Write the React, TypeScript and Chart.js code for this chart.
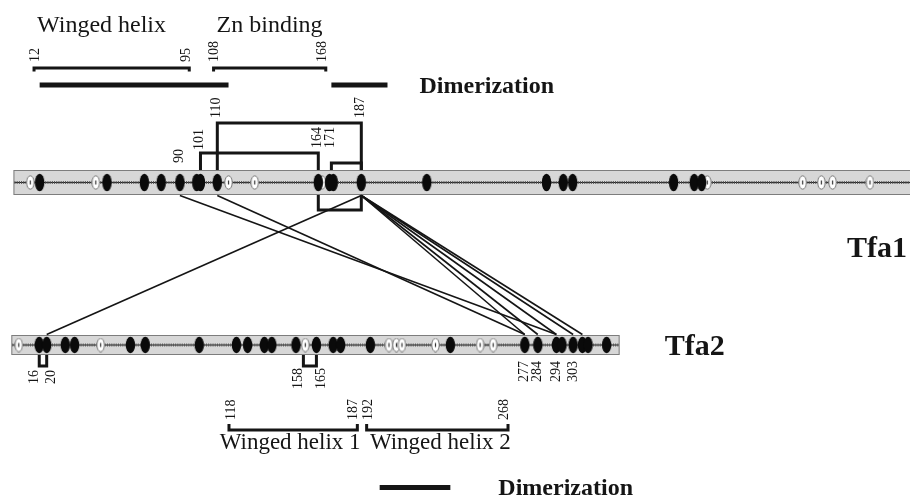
import { useEffect, useRef } from "react";
import { Chart, registerables } from "chart.js";

Chart.register(...registerables);

// ---------------- data (residue numbers) ----------------
const TFA1_LENGTH = 482;
const TFA2_LENGTH = 328;

const tfa1Lysines = [15, 51, 71, 80, 90, 99, 101, 110, 164, 170, 172, 187, 222, 286, 295, 300, 354, 365, 369];
const tfa1OtherSites = [10, 45, 116, 130, 166, 372, 423, 433, 439, 459];
const tfa2Lysines = [16, 20, 30, 35, 65, 73, 102, 122, 128, 137, 141, 154, 165, 174, 178, 194, 237, 277, 284, 294, 297, 303, 308, 311, 321];
const tfa2OtherSites = [5, 49, 159, 204, 208, 211, 229, 253, 260];

const tfa1DomainNames = ["Winged helix", "Zn binding"];
const tfa1DomainStarts = [12, 108];
const tfa1DomainEnds = [95, 168];
const tfa2DomainNames = ["Winged helix 1", "Winged helix 2"];
const tfa2DomainStarts = [118, 192];
const tfa2DomainEnds = [187, 268];

const tfa1DimerStarts = [15, 171];
const tfa1DimerEnds = [116, 201];
const tfa2DimerStarts = [199];
const tfa2DimerEnds = [237];
const dimerLabel = "Dimerization";

const tfa1IntraAboveFrom = [110, 101, 171];
const tfa1IntraAboveTo = [187, 164, 187];
const tfa1IntraBelowFrom = [164];
const tfa1IntraBelowTo = [187];
const tfa2IntraBelowFrom = [16, 158];
const tfa2IntraBelowTo = [20, 165];

const interTfa1 = [90, 110, 187, 187, 187, 187, 187, 187];
const interTfa2 = [294, 277, 20, 277, 284, 294, 303, 308];

const tfa1SiteLabels = [90, 101, 110, 164, 171, 187];
const tfa2SiteLabels = [16, 20, 158, 165, 277, 284, 294, 303];
const proteinNames = ["Tfa1", "Tfa2"];

// ---------------- layout (pixels) ----------------
const W = 910;
const H = 496;
const TFA1_Y = 182.5;
const TFA1_H = 25;
const TFA2_Y = 345;
const TFA2_H = 20;
const ABOVE_LEVELS = [123, 153, 163];
const BELOW_TFA1_LEVEL = 210;
const BELOW_TFA2_LEVEL = 366;
const TFA1_LABEL_BOTTOMS = [163, 150, 118, 148, 148, 118];
const TFA2_LABEL_TOPS = [370, 370, 368, 368, 361, 361, 361, 361];
const SERIF = '"Liberation Serif", "Times New Roman", serif';
const INK = "#151515";

function ellipseImage(w: number, h: number, fill: string, stroke: string | null, mark: boolean) {
  const c = document.createElement("canvas");
  c.width = w;
  c.height = h;
  const g = c.getContext("2d")!;
  g.beginPath();
  g.ellipse(w / 2, h / 2, w / 2 - 0.8, h / 2 - 0.8, 0, 0, Math.PI * 2);
  g.fillStyle = fill;
  g.fill();
  if (stroke) {
    g.lineWidth = 1;
    g.strokeStyle = stroke;
    g.stroke();
  }
  if (mark) {
    g.fillStyle = "#333";
    g.fillRect(w / 2 - 0.6, h / 2 - 2, 1.2, 4);
  }
  return c;
}

function vText(ctx: CanvasRenderingContext2D, text: string, x: number, y: number, anchor: "top" | "bottom") {
  ctx.save();
  ctx.translate(x, y);
  ctx.rotate(-Math.PI / 2);
  ctx.textAlign = anchor === "bottom" ? "left" : "right";
  ctx.textBaseline = "middle";
  ctx.fillText(text, 0, 0);
  ctx.restore();
}

function drawTrack(ctx: CanvasRenderingContext2D, xa: number, xb: number, yc: number, h: number) {
  ctx.save();
  ctx.fillStyle = "#d7d7d7";
  ctx.fillRect(xa, yc - h / 2, xb - xa, h);
  ctx.strokeStyle = "#7d7d7d";
  ctx.lineWidth = 1;
  ctx.strokeRect(xa + 0.5, yc - h / 2 + 0.5, xb - xa - 1, h - 1);
  ctx.beginPath();
  ctx.moveTo(xa + 1, yc);
  ctx.lineTo(xb - 1, yc);
  ctx.strokeStyle = "#222";
  ctx.lineWidth = 1;
  ctx.stroke();
  ctx.setLineDash([1, 1.2]);
  ctx.lineWidth = 3;
  ctx.strokeStyle = "#555";
  ctx.stroke();
  ctx.restore();
}

function bracket(ctx: CanvasRenderingContext2D, xa: number, xb: number, yLeg: number, yLine: number) {
  ctx.beginPath();
  ctx.moveTo(xa, yLeg);
  ctx.lineTo(xa, yLine);
  ctx.lineTo(xb, yLine);
  ctx.lineTo(xb, yLeg);
  ctx.stroke();
}

const diagramPlugin = {
  id: "tfaDiagram",
  beforeDatasetsDraw(chart: any) {
    const { ctx, scales } = chart;
    const x1 = scales.x;
    const x2 = scales.x2;
    const y = scales.y;
    drawTrack(ctx, x1.getPixelForValue(1), x1.getPixelForValue(TFA1_LENGTH), y.getPixelForValue(TFA1_Y), TFA1_H);
    drawTrack(ctx, x2.getPixelForValue(1), x2.getPixelForValue(TFA2_LENGTH), y.getPixelForValue(TFA2_Y), TFA2_H);
  },
  afterDatasetsDraw(chart: any) {
    const { ctx, scales } = chart;
    const x1 = scales.x;
    const x2 = scales.x2;
    const y = scales.y;
    const t1Top = y.getPixelForValue(TFA1_Y) - TFA1_H / 2;
    const t1Bot = y.getPixelForValue(TFA1_Y) + TFA1_H / 2;
    const t2Top = y.getPixelForValue(TFA2_Y) - TFA2_H / 2;
    const t2Bot = y.getPixelForValue(TFA2_Y) + TFA2_H / 2;

    ctx.save();
    ctx.fillStyle = INK;
    ctx.strokeStyle = INK;

    // inter-protein cross-links
    ctx.lineWidth = 1.6;
    for (let i = 0; i < interTfa1.length; i++) {
      ctx.beginPath();
      ctx.moveTo(x1.getPixelForValue(interTfa1[i]), t1Bot + 0.5);
      ctx.lineTo(x2.getPixelForValue(interTfa2[i]), t2Top - 0.5);
      ctx.stroke();
    }

    // intra-protein cross-link brackets
    ctx.lineWidth = 3;
    ctx.lineJoin = "miter";
    ctx.lineCap = "butt";
    for (let i = 0; i < tfa1IntraAboveFrom.length; i++) {
      bracket(ctx, x1.getPixelForValue(tfa1IntraAboveFrom[i]), x1.getPixelForValue(tfa1IntraAboveTo[i]), t1Top, ABOVE_LEVELS[i]);
    }
    for (let i = 0; i < tfa1IntraBelowFrom.length; i++) {
      bracket(ctx, x1.getPixelForValue(tfa1IntraBelowFrom[i]), x1.getPixelForValue(tfa1IntraBelowTo[i]), t1Bot, BELOW_TFA1_LEVEL);
    }
    for (let i = 0; i < tfa2IntraBelowFrom.length; i++) {
      bracket(ctx, x2.getPixelForValue(tfa2IntraBelowFrom[i]), x2.getPixelForValue(tfa2IntraBelowTo[i]), t2Bot, BELOW_TFA2_LEVEL);
    }

    // domain brackets
    for (let i = 0; i < tfa1DomainNames.length; i++) {
      bracket(ctx, x1.getPixelForValue(tfa1DomainStarts[i]), x1.getPixelForValue(tfa1DomainEnds[i]), 71.5, 68);
    }
    for (let i = 0; i < tfa2DomainNames.length; i++) {
      bracket(ctx, x2.getPixelForValue(tfa2DomainStarts[i]), x2.getPixelForValue(tfa2DomainEnds[i]), 424, 430);
    }

    // dimerization bars
    for (let i = 0; i < tfa1DimerStarts.length; i++) {
      const a = x1.getPixelForValue(tfa1DimerStarts[i]);
      const b = x1.getPixelForValue(tfa1DimerEnds[i]);
      ctx.fillRect(a, 82.5, b - a, 5);
    }
    for (let i = 0; i < tfa2DimerStarts.length; i++) {
      const a = x2.getPixelForValue(tfa2DimerStarts[i]);
      const b = x2.getPixelForValue(tfa2DimerEnds[i]);
      ctx.fillRect(a, 485, b - a, 5);
    }

    // rotated residue labels
    ctx.font = `14px ${SERIF}`;
    for (let i = 0; i < tfa1SiteLabels.length; i++) {
      vText(ctx, String(tfa1SiteLabels[i]), x1.getPixelForValue(tfa1SiteLabels[i]) - 1, TFA1_LABEL_BOTTOMS[i], "bottom");
    }
    for (let i = 0; i < tfa2SiteLabels.length; i++) {
      const r = tfa2SiteLabels[i];
      let nudge = 0;
      if (tfa2IntraBelowFrom.includes(r)) nudge = -5;
      if (tfa2IntraBelowTo.includes(r)) nudge = 5;
      vText(ctx, String(r), x2.getPixelForValue(r) + nudge, TFA2_LABEL_TOPS[i], "top");
    }
    for (let i = 0; i < tfa1DomainNames.length; i++) {
      vText(ctx, String(tfa1DomainStarts[i]), x1.getPixelForValue(tfa1DomainStarts[i]) + 1, 62, "bottom");
      vText(ctx, String(tfa1DomainEnds[i]), x1.getPixelForValue(tfa1DomainEnds[i]) - 3, 62, "bottom");
    }
    for (let i = 0; i < tfa2DomainNames.length; i++) {
      vText(ctx, String(tfa2DomainStarts[i]), x2.getPixelForValue(tfa2DomainStarts[i]) + 2, 420, "bottom");
      vText(ctx, String(tfa2DomainEnds[i]), x2.getPixelForValue(tfa2DomainEnds[i]) - 4, 420, "bottom");
    }

    // domain names
    ctx.font = `24px ${SERIF}`;
    ctx.textBaseline = "alphabetic";
    ctx.textAlign = "left";
    for (let i = 0; i < tfa1DomainNames.length; i++) {
      ctx.fillText(tfa1DomainNames[i], x1.getPixelForValue(tfa1DomainStarts[i]) + 3, 32);
    }
    ctx.font = `23px ${SERIF}`;
    ctx.textAlign = "center";
    for (let i = 0; i < tfa2DomainNames.length; i++) {
      const c = (x2.getPixelForValue(tfa2DomainStarts[i]) + x2.getPixelForValue(tfa2DomainEnds[i])) / 2;
      ctx.fillText(tfa2DomainNames[i], c + (i === 0 ? -3 : 3), 449);
    }

    // dimerization labels
    ctx.font = `bold 24px ${SERIF}`;
    ctx.textAlign = "left";
    ctx.fillText(dimerLabel, x1.getPixelForValue(tfa1DimerEnds[tfa1DimerEnds.length - 1]) + 32, 93);
    ctx.fillText(dimerLabel, x2.getPixelForValue(tfa2DimerEnds[tfa2DimerEnds.length - 1]) + 48, 495);

    // protein names
    ctx.font = `bold 30px ${SERIF}`;
    ctx.textAlign = "right";
    ctx.fillText(proteinNames[0], 907, 257);
    ctx.textAlign = "left";
    ctx.fillText(proteinNames[1], x2.getPixelForValue(TFA2_LENGTH) + 45, 355);

    ctx.restore();
  },
};

export default function App() {
  const canvasRef = useRef<HTMLCanvasElement | null>(null);

  useEffect(() => {
    const canvas = canvasRef.current;
    if (!canvas) return;
    const black1 = ellipseImage(11, 19, "#0a0a0a", null, false);
    const white1 = ellipseImage(9, 15, "#ffffff", "#777777", true);
    const black2 = ellipseImage(11, 18, "#0a0a0a", null, false);
    const white2 = ellipseImage(9, 15, "#ffffff", "#777777", true);

    const chart = new Chart(canvas, {
      type: "scatter",
      data: {
        datasets: [
          { label: "Tfa1 K", xAxisID: "x", data: tfa1Lysines.map((r) => ({ x: r, y: TFA1_Y })), pointStyle: black1 as any, pointRadius: 5 },
          { label: "Tfa2 K", xAxisID: "x2", data: tfa2Lysines.map((r) => ({ x: r, y: TFA2_Y })), pointStyle: black2 as any, pointRadius: 5 },
          { label: "Tfa1 other", xAxisID: "x", data: tfa1OtherSites.map((r) => ({ x: r, y: TFA1_Y })), pointStyle: white1 as any, pointRadius: 5 },
          { label: "Tfa2 other", xAxisID: "x2", data: tfa2OtherSites.map((r) => ({ x: r, y: TFA2_Y })), pointStyle: white2 as any, pointRadius: 5 },
        ],
      },
      options: {
        animation: false,
        responsive: false,
        maintainAspectRatio: false,
        events: [],
        layout: { padding: 0, autoPadding: false },
        plugins: { legend: { display: false }, tooltip: { enabled: false } },
        scales: {
          x: { type: "linear", display: false, min: -6.2, max: 480.4 },
          x2: { type: "linear", axis: "x", position: "bottom", display: false, min: -5.1, max: 484.1 },
          y: { type: "linear", display: false, min: 0, max: H, reverse: true },
        },
      } as any,
      plugins: [diagramPlugin],
    });
    return () => chart.destroy();
  }, []);

  return (
    <div style={{ position: "absolute", left: 0, top: 0, width: W, height: H, background: "#fff" }}>
      <canvas ref={canvasRef} width={W} height={H} style={{ display: "block" }} />
    </div>
  );
}
